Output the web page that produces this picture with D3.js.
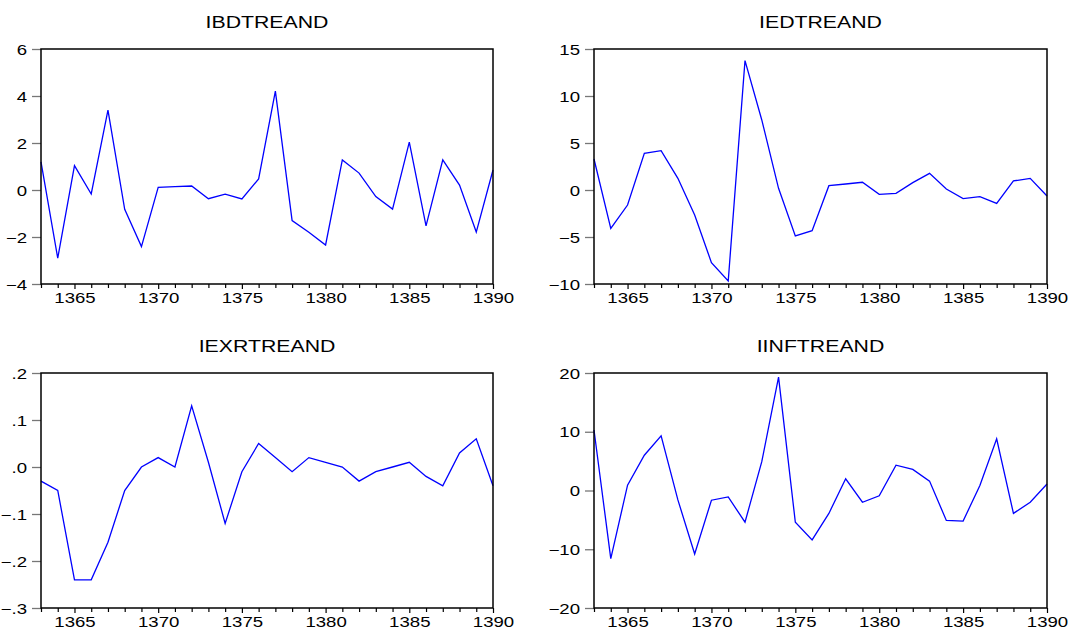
<!DOCTYPE html>
<html>
<head>
<meta charset="utf-8">
<script src="https://cdn.jsdelivr.net/npm/d3@7"></script>
<style>
  body { margin: 0; background: #fff; }
  svg text { font-family: "Liberation Sans", Arial, sans-serif; fill: #000; }
</style>
</head>
<body>
<div id="chart"></div>
<script>
// years 1363..1390
var years = d3.range(1363, 1391);

var ibd = [1.2, -2.9, 1.04, -0.17, 3.4, -0.82, -2.41, 0.11, 0.14, 0.17, -0.37, -0.18, -0.38, 0.47,
           4.21, -1.3, -1.8, -2.34, 1.28, 0.72, -0.28, -0.81, 2.04, -1.53, 1.28, 0.21, -1.79, 0.85];
var ied = [3.3, -4.08, -1.6, 3.9, 4.18, 1.24, -2.66, -7.73, -9.68, 13.76, 7.45, 0.18, -4.89, -4.33,
           0.46, 0.64, 0.82, -0.46, -0.35, 0.78, 1.77, 0.11, -0.92, -0.71, -1.42, 0.96, 1.24, -0.64];
var iexr = [-0.03, -0.05, -0.24, -0.24, -0.16, -0.05, 0, 0.02, 0, 0.13, 0.01, -0.12, -0.01, 0.05,
            0.02, -0.01, 0.02, 0.01, 0, -0.03, -0.01, 0, 0.01, -0.02, -0.04, 0.03, 0.06, -0.04];
var iinf = [10.3, -11.6, 0.9, 6.0, 9.3, -1.6, -10.8, -1.65, -1.1, -5.4, 4.9, 19.3, -5.4, -8.4,
            -3.9, 2.0, -2.0, -0.9, 4.3, 3.6, 1.6, -5.1, -5.2, 0.85, 8.8, -3.9, -2.0, 1.1];

var titles = ["IBDTREAND", "IEDTREAND", "IEXRTREAND", "IINFTREAND"];
var yTicks = [
  [-4, -2, 0, 2, 4, 6],
  [-10, -5, 0, 5, 10, 15],
  [-0.3, -0.2, -0.1, 0, 0.1, 0.2],
  [-20, -10, 0, 10, 20]
];
var xLabels = [1365, 1370, 1375, 1380, 1385, 1390];

var series = [ibd, ied, iexr, iinf];

var W = 1071, H = 632;
var svg = d3.select("#chart").append("svg")
    .attr("width", W)
    .attr("height", H);

// plot frames: left/right columns, top/bottom rows
var cols = [[41, 493], [594, 1047]];
var rows = [[49, 284], [373, 608]];
var stretch = 1.33; // text in the source is drawn wide

function fmtEx(d) {
    if (Math.abs(d) < 1e-9) return ".0";
    return d3.format(".1f")(d).replace("0.", ".");
}

series.forEach(function (vals, i) {
    var c = cols[i % 2], r = rows[Math.floor(i / 2)];
    var ticks = yTicks[i];

    var x = d3.scaleLinear().domain([1363, 1390]).range(c);
    var y = d3.scaleLinear().domain([ticks[0], ticks[ticks.length - 1]]).range([r[1], r[0]]);

    var g = svg.append("g");

    // title
    g.append("text")
        .attr("transform", "translate(" + ((c[0] + c[1]) / 2) + "," + (r[0] - 21) + ") scale(" + stretch + ",1)")
        .attr("text-anchor", "middle")
        .style("font-size", "16px")
        .text(titles[i]);

    // y axis
    var yAxis = d3.axisLeft(y).tickValues(ticks).tickSize(9).tickSizeOuter(0)
        .tickFormat(i === 2 ? fmtEx : d3.format("d"));
    var ya = g.append("g").attr("transform", "translate(" + c[0] + ",0)").call(yAxis);
    ya.select(".domain").remove();
    ya.selectAll(".tick line").attr("stroke", "#777").attr("stroke-width", 1.3);
    ya.selectAll(".tick text").each(function () {
        var t = d3.select(this);
        var ty = d3.select(this.parentNode).attr("transform");
        t.attr("x", null).attr("dy", null)
            .attr("dominant-baseline", "central")
            .attr("transform", "translate(-14,0) scale(" + stretch + ",1)")
            .style("font-size", "14px")
            .attr("fill", "#000");
    });

    // x axis
    var xAxis = d3.axisBottom(x).tickValues(years).tickSize(4).tickSizeOuter(0)
        .tickFormat(function (d) { return xLabels.indexOf(d) >= 0 ? d : ""; });
    var xa = g.append("g").attr("transform", "translate(0," + r[1] + ")").call(xAxis);
    xa.select(".domain").remove();
    xa.selectAll(".tick line").attr("stroke", "#000").attr("stroke-width", 1.2)
        .attr("y2", function (d) { return xLabels.indexOf(d) >= 0 ? 5 : 4; });
    xa.selectAll(".tick text")
        .attr("y", null).attr("dy", null)
        .attr("transform", "translate(0,19) scale(" + stretch + ",1)")
        .style("font-size", "14px")
        .attr("fill", "#000");

    // line
    var line = d3.line()
        .x(function (d, j) { return x(years[j]); })
        .y(function (d) { return y(d); });
    g.append("path")
        .datum(vals)
        .attr("fill", "none")
        .attr("stroke", "#0000ff")
        .attr("stroke-width", 1.3)
        .attr("d", line);

    // frame
    g.append("rect")
        .attr("x", c[0]).attr("y", r[0])
        .attr("width", c[1] - c[0]).attr("height", r[1] - r[0])
        .attr("fill", "none")
        .attr("stroke", "#000")
        .attr("stroke-width", 1.5);
});
</script>
</body>
</html>
